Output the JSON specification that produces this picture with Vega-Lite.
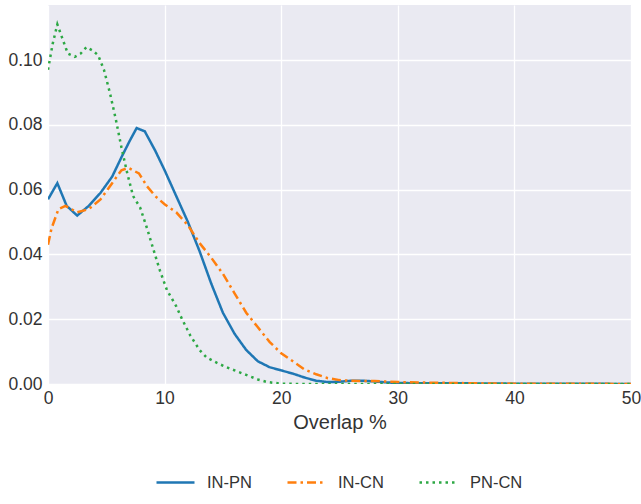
{
  "$schema": "https://vega.github.io/schema/vega-lite/v6.json",
  "width": 583,
  "height": 379,
  "autosize": {"type": "none"},
  "padding": {"left": 48, "top": 5, "right": 10, "bottom": 120},
  "background": "white",
  "config": {
    "font": "Liberation Sans",
    "view": {"fill": "#EAEAF2", "stroke": null},
    "axis": {
      "domain": false,
      "ticks": false,
      "grid": true,
      "gridColor": "white",
      "gridWidth": 1.3,
      "labelFont": "Liberation Sans",
      "labelFontSize": 17.5,
      "labelColor": "#333333",
      "titleFont": "Liberation Sans",
      "titleFontSize": 20,
      "titleFontWeight": "normal",
      "titleColor": "#333333"
    },
    "legend": {
      "labelFont": "Liberation Sans",
      "labelFontSize": 16.5,
      "labelColor": "#333333"
    }
  },
  "data": {
    "values": [
      {"x": 0, "y": 0.057, "s": "IN-PN"},
      {"x": 0.8, "y": 0.062, "s": "IN-PN"},
      {"x": 1.6, "y": 0.055, "s": "IN-PN"},
      {"x": 2.5, "y": 0.052, "s": "IN-PN"},
      {"x": 3.5, "y": 0.055, "s": "IN-PN"},
      {"x": 4.5, "y": 0.059, "s": "IN-PN"},
      {"x": 5.5, "y": 0.064, "s": "IN-PN"},
      {"x": 6.3, "y": 0.070, "s": "IN-PN"},
      {"x": 7.0, "y": 0.075, "s": "IN-PN"},
      {"x": 7.6, "y": 0.079, "s": "IN-PN"},
      {"x": 8.3, "y": 0.078, "s": "IN-PN"},
      {"x": 9.2, "y": 0.072, "s": "IN-PN"},
      {"x": 10, "y": 0.066, "s": "IN-PN"},
      {"x": 11, "y": 0.058, "s": "IN-PN"},
      {"x": 12, "y": 0.050, "s": "IN-PN"},
      {"x": 13, "y": 0.041, "s": "IN-PN"},
      {"x": 14, "y": 0.031, "s": "IN-PN"},
      {"x": 15, "y": 0.022, "s": "IN-PN"},
      {"x": 16, "y": 0.0155, "s": "IN-PN"},
      {"x": 17, "y": 0.0105, "s": "IN-PN"},
      {"x": 18, "y": 0.007, "s": "IN-PN"},
      {"x": 19, "y": 0.0052, "s": "IN-PN"},
      {"x": 20, "y": 0.0042, "s": "IN-PN"},
      {"x": 21, "y": 0.0032, "s": "IN-PN"},
      {"x": 22, "y": 0.002, "s": "IN-PN"},
      {"x": 23, "y": 0.001, "s": "IN-PN"},
      {"x": 24, "y": 0.0006, "s": "IN-PN"},
      {"x": 25, "y": 0.0007, "s": "IN-PN"},
      {"x": 26, "y": 0.001, "s": "IN-PN"},
      {"x": 27, "y": 0.001, "s": "IN-PN"},
      {"x": 28, "y": 0.0008, "s": "IN-PN"},
      {"x": 29, "y": 0.0005, "s": "IN-PN"},
      {"x": 30, "y": 0.0003, "s": "IN-PN"},
      {"x": 33, "y": 0.0002, "s": "IN-PN"},
      {"x": 36, "y": 0.0002, "s": "IN-PN"},
      {"x": 40, "y": 0.0001, "s": "IN-PN"},
      {"x": 45, "y": 0.0001, "s": "IN-PN"},
      {"x": 50, "y": 0, "s": "IN-PN"},
      {"x": 0, "y": 0.043, "s": "IN-CN"},
      {"x": 0.3, "y": 0.048, "s": "IN-CN"},
      {"x": 0.9, "y": 0.054, "s": "IN-CN"},
      {"x": 1.5, "y": 0.055, "s": "IN-CN"},
      {"x": 2.5, "y": 0.053, "s": "IN-CN"},
      {"x": 3.5, "y": 0.054, "s": "IN-CN"},
      {"x": 4.5, "y": 0.057, "s": "IN-CN"},
      {"x": 5.5, "y": 0.062, "s": "IN-CN"},
      {"x": 6.3, "y": 0.066, "s": "IN-CN"},
      {"x": 6.9, "y": 0.0667, "s": "IN-CN"},
      {"x": 7.8, "y": 0.065, "s": "IN-CN"},
      {"x": 8.5, "y": 0.061, "s": "IN-CN"},
      {"x": 9.2, "y": 0.058, "s": "IN-CN"},
      {"x": 10, "y": 0.0555, "s": "IN-CN"},
      {"x": 11, "y": 0.053, "s": "IN-CN"},
      {"x": 12, "y": 0.049, "s": "IN-CN"},
      {"x": 13, "y": 0.0435, "s": "IN-CN"},
      {"x": 14, "y": 0.039, "s": "IN-CN"},
      {"x": 15, "y": 0.034, "s": "IN-CN"},
      {"x": 16, "y": 0.028, "s": "IN-CN"},
      {"x": 17, "y": 0.022, "s": "IN-CN"},
      {"x": 18, "y": 0.0175, "s": "IN-CN"},
      {"x": 19, "y": 0.013, "s": "IN-CN"},
      {"x": 20, "y": 0.0095, "s": "IN-CN"},
      {"x": 21, "y": 0.007, "s": "IN-CN"},
      {"x": 22, "y": 0.0045, "s": "IN-CN"},
      {"x": 23, "y": 0.003, "s": "IN-CN"},
      {"x": 24, "y": 0.0018, "s": "IN-CN"},
      {"x": 25, "y": 0.0012, "s": "IN-CN"},
      {"x": 26, "y": 0.001, "s": "IN-CN"},
      {"x": 28, "y": 0.0009, "s": "IN-CN"},
      {"x": 30, "y": 0.0006, "s": "IN-CN"},
      {"x": 33, "y": 0.0004, "s": "IN-CN"},
      {"x": 37, "y": 0.0002, "s": "IN-CN"},
      {"x": 40, "y": 0.0001, "s": "IN-CN"},
      {"x": 45, "y": 0.0001, "s": "IN-CN"},
      {"x": 50, "y": 0, "s": "IN-CN"},
      {"x": 0, "y": 0.097, "s": "PN-CN"},
      {"x": 0.4, "y": 0.105, "s": "PN-CN"},
      {"x": 0.8, "y": 0.111, "s": "PN-CN"},
      {"x": 1.2, "y": 0.107, "s": "PN-CN"},
      {"x": 1.7, "y": 0.102, "s": "PN-CN"},
      {"x": 2.3, "y": 0.101, "s": "PN-CN"},
      {"x": 2.8, "y": 0.102, "s": "PN-CN"},
      {"x": 3.3, "y": 0.104, "s": "PN-CN"},
      {"x": 3.8, "y": 0.103, "s": "PN-CN"},
      {"x": 4.3, "y": 0.1015, "s": "PN-CN"},
      {"x": 4.8, "y": 0.097, "s": "PN-CN"},
      {"x": 5.3, "y": 0.09, "s": "PN-CN"},
      {"x": 5.8, "y": 0.082, "s": "PN-CN"},
      {"x": 6.3, "y": 0.073, "s": "PN-CN"},
      {"x": 6.8, "y": 0.065, "s": "PN-CN"},
      {"x": 7.3, "y": 0.058, "s": "PN-CN"},
      {"x": 7.9, "y": 0.0545, "s": "PN-CN"},
      {"x": 8.5, "y": 0.048, "s": "PN-CN"},
      {"x": 9, "y": 0.042, "s": "PN-CN"},
      {"x": 9.6, "y": 0.035, "s": "PN-CN"},
      {"x": 10.2, "y": 0.029, "s": "PN-CN"},
      {"x": 11, "y": 0.024, "s": "PN-CN"},
      {"x": 11.5, "y": 0.02, "s": "PN-CN"},
      {"x": 12.2, "y": 0.015, "s": "PN-CN"},
      {"x": 13, "y": 0.0105, "s": "PN-CN"},
      {"x": 13.6, "y": 0.0082, "s": "PN-CN"},
      {"x": 14.5, "y": 0.0065, "s": "PN-CN"},
      {"x": 15.3, "y": 0.0052, "s": "PN-CN"},
      {"x": 16, "y": 0.0042, "s": "PN-CN"},
      {"x": 17, "y": 0.0028, "s": "PN-CN"},
      {"x": 18, "y": 0.0014, "s": "PN-CN"},
      {"x": 18.8, "y": 0.0006, "s": "PN-CN"},
      {"x": 20, "y": 0.0001, "s": "PN-CN"},
      {"x": 22, "y": 0, "s": "PN-CN"},
      {"x": 50, "y": 0, "s": "PN-CN"}
    ]
  },
  "mark": {"type": "line", "strokeWidth": 2.5, "interpolate": "linear", "clip": true},
  "encoding": {
    "x": {
      "field": "x",
      "type": "quantitative",
      "title": "Overlap %",
      "scale": {"domain": [0, 50], "nice": false, "zero": false},
      "axis": {"values": [0, 10, 20, 30, 40, 50], "labelPadding": 5, "titlePadding": 6, "labelFlush": false}
    },
    "y": {
      "field": "y",
      "type": "quantitative",
      "title": null,
      "scale": {"domain": [0, 0.117], "nice": false},
      "axis": {"values": [0, 0.02, 0.04, 0.06, 0.08, 0.1], "format": ".2f", "labelPadding": 6}
    },
    "color": {
      "field": "s",
      "type": "nominal",
      "scale": {"domain": ["IN-PN", "IN-CN", "PN-CN"], "range": ["#1f77b4", "#ff7f0e", "#2ca844"]},
      "legend": {
        "title": null,
        "orient": "none",
        "direction": "horizontal",
        "legendX": 107,
        "legendY": 457,
        "symbolType": "stroke",
        "symbolSize": 1444,
        "symbolStrokeWidth": 2.5,
        "labelOffset": 11,
        "columnPadding": 30
      }
    },
    "strokeDash": {
      "field": "s",
      "type": "nominal",
      "scale": {"domain": ["IN-PN", "IN-CN", "PN-CN"], "range": [[1, 0], [9, 4, 2.5, 4], [2.5, 4]]},
      "legend": null
    },
    "order": {"field": "x", "type": "quantitative"}
  }
}
